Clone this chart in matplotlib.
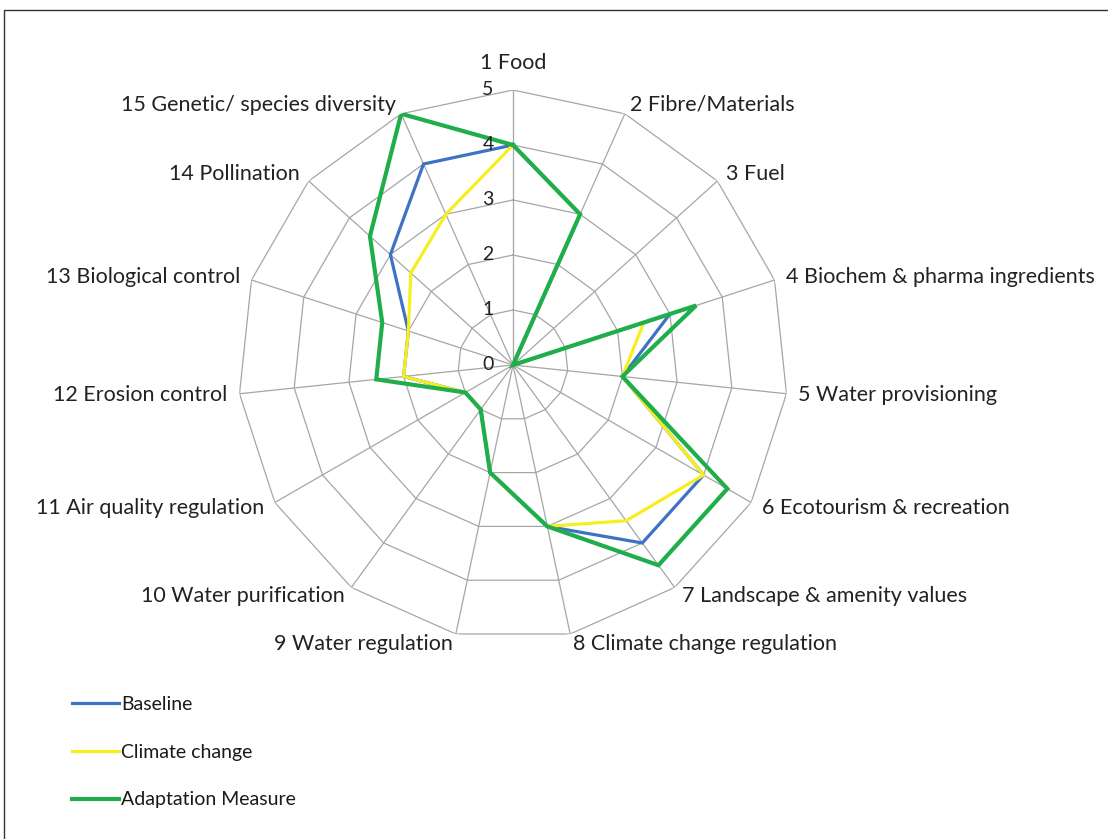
import numpy as np
import matplotlib
matplotlib.use("Agg")
import matplotlib.pyplot as plt
from matplotlib.patches import Rectangle

# --- dados ---
categorias = [
    "1 Food", "2 Fibre/Materials", "3 Fuel", "4 Biochem & pharma ingredients",
    "5 Water provisioning", "6 Ecotourism & recreation", "7 Landscape & amenity values",
    "8 Climate change regulation", "9 Water regulation", "10 Water purification",
    "11 Air quality regulation", "12 Erosion control", "13 Biological control",
    "14 Pollination", "15 Genetic/ species diversity",
]
baseline = [4, 3, 0, 3, 2, 4, 4, 3, 2, 1, 1, 2, 2, 3, 4]
climate_change = [4, 3, 0, 2.5, 2, 4, 3.5, 3, 2, 1, 1, 2, 2, 2.5, 3]
adaptation = [4, 3, 0, 3.5, 2, 4.5, 4.5, 3, 2, 1, 1, 2.5, 2.5, 3.5, 5]
niveis = [0, 1, 2, 3, 4, 5]

series = [
    ("Baseline", baseline, "#3d72c4", 2.3),
    ("Climate change", climate_change, "#f7ee1f", 2.3),
    ("Adaptation Measure", adaptation, "#1fae4b", 3.0),
]

plt.rcParams["font.family"] = ["Lato", "DejaVu Sans"]
W, H = 1108, 839
fig = plt.figure(figsize=(W / 100, H / 100), dpi=100)

cx, cy, R = 513, 365, 275
ax = fig.add_axes([(cx - R) / W, (H - cy - R) / H, 2 * R / W, 2 * R / H], polar=True)
ax.set_theta_offset(np.pi / 2)
ax.set_theta_direction(-1)
ax.set_ylim(0, 5)
ax.axis("off")

n = len(categorias)
ang = np.linspace(0, 2 * np.pi, n, endpoint=False)
ang_f = np.append(ang, ang[0])

# grade poligonal
grid_c = "#a6a6a6"
for lv in niveis[1:]:
    ax.plot(ang_f, [lv] * (n + 1), color=grid_c, lw=0.9, zorder=1)
for a in ang:
    ax.plot([a, a], [0, niveis[-1]], color=grid_c, lw=0.9, zorder=1)

# séries
for nome, vals, cor, lw in series:
    v = np.append(vals, vals[0])
    ax.plot(ang_f, v, color=cor, lw=lw, label=nome, zorder=3,
            solid_joinstyle="miter")

# rótulos radiais
for lv in niveis:
    ax.annotate(str(lv), xy=(0, lv), xytext=(-25, 0), textcoords="offset pixels",
                ha="center", va="center", fontsize=14, color="#222222")

# rótulos das categorias
for a, lab in zip(ang, categorias):
    s, c = np.sin(a), np.cos(a)
    if abs(s) < 1e-6:
        ax.annotate(lab, xy=(a, 5), xytext=(0, 17), textcoords="offset pixels",
                    ha="center", va="bottom", fontsize=15.5, color="#222222")
        continue
    ha = "left" if s > 0 else "right"
    ax.annotate(lab, xy=(a, 5), xytext=(12 * s, 10 * c), textcoords="offset pixels",
                ha=ha, va="center", fontsize=15.5, color="#222222")

fig.legend(loc="upper left", bbox_to_anchor=(72 / W, 1 - 696 / H), frameon=False,
           fontsize=14, handlelength=2.4, handletextpad=0.12, labelspacing=1.58,
           borderaxespad=0, borderpad=0, labelcolor="#1a1a1a")

fig.add_artist(Rectangle((4 / W, -0.05), 1.2, 1 - 10 / H + 0.05, transform=fig.transFigure,
                         fill=False, edgecolor="#333333", lw=1))

fig.savefig("out.png", dpi=100)
